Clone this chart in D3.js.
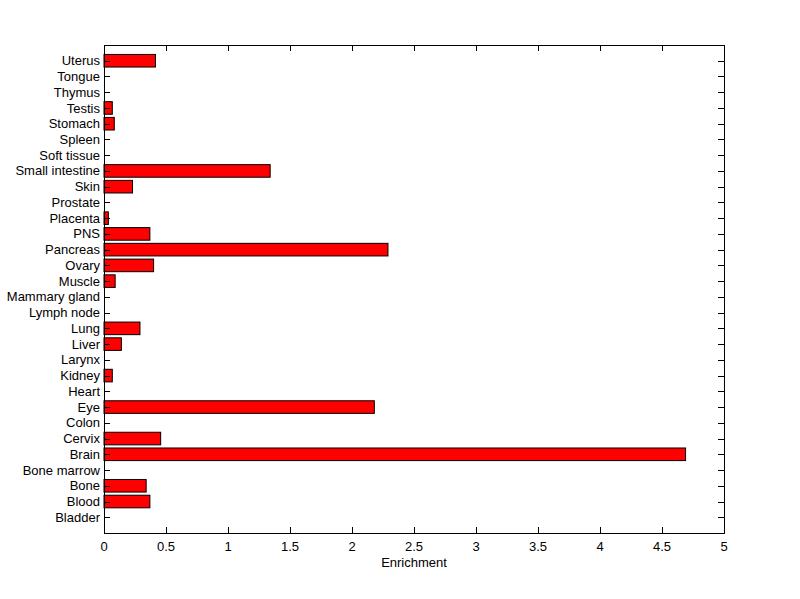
<!DOCTYPE html>
<html><head><meta charset="utf-8">
<script src="https://cdn.jsdelivr.net/npm/d3@7"></script>
<style>body{margin:0;background:#fff;} text{font-family:"Liberation Sans",Arial,sans-serif;font-size:13px;fill:#000;}</style>
</head><body>
<svg id="c" width="800" height="599"></svg>
<script>
const categories = ["Bladder","Blood","Bone","Bone marrow","Brain","Cervix","Colon","Eye","Heart","Kidney","Larynx","Liver","Lung","Lymph node","Mammary gland","Muscle","Ovary","Pancreas","PNS","Placenta","Prostate","Skin","Small intestine","Soft tissue","Spleen","Stomach","Testis","Thymus","Tongue","Uterus"];
const values = [0,0.37,0.34,0,4.69,0.457,0,2.18,0,0.067,0,0.14,0.29,0,0,0.09,0.40,2.29,0.37,0.035,0,0.23,1.34,0,0,0.083,0.067,0,0,0.415];
const xTicks = [0,0.5,1,1.5,2,2.5,3,3.5,4,4.5,5];
const xLabel = "Enrichment";

const L=104, R=724, T=45, B=533;
const svg = d3.select("#c");
const x = d3.scaleLinear().domain([0,5]).range([L,R]);
const y = d3.scaleLinear().domain([0,categories.length+1]).range([B,T]);
const bw = (y(0)-y(0.8));

svg.append("rect").attr("x",L).attr("y",T).attr("width",R-L).attr("height",B-T)
  .attr("fill","#fff");

svg.selectAll("rect.bar").data(values.map((v,i)=>({v,i}))).enter()
  .filter(d=>d.v>0)
  .append("rect").attr("class","bar")
  .attr("x",x(0)).attr("y",d=>y(d.i+1)-bw/2)
  .attr("width",d=>x(d.v)-x(0)).attr("height",bw)
  .attr("fill","#ff0000").attr("stroke","#000").attr("stroke-width",1);

const g = svg.append("g").attr("shape-rendering","crispEdges");
xTicks.forEach(t=>{
  g.append("line").attr("x1",x(t)).attr("x2",x(t)).attr("y1",B).attr("y2",B-6).attr("stroke","#000");
  g.append("line").attr("x1",x(t)).attr("x2",x(t)).attr("y1",T).attr("y2",T+6).attr("stroke","#000");
  svg.append("text").attr("x",x(t)).attr("y",B+18).attr("text-anchor","middle").text(String(t));
});
categories.forEach((c,i)=>{
  const yy = Math.round(y(i+1))+0.5;
  g.append("line").attr("x1",L).attr("x2",L+6).attr("y1",yy).attr("y2",yy).attr("stroke","#000");
  g.append("line").attr("x1",R).attr("x2",R-6).attr("y1",yy).attr("y2",yy).attr("stroke","#000");
  svg.append("text").attr("x",L-4).attr("y",y(i+1)).attr("dy","0.35em").attr("text-anchor","end").text(c);
});
g.append("rect").attr("x",L+0.5).attr("y",T+0.5).attr("width",R-L).attr("height",B-T)
  .attr("fill","none").attr("stroke","#000");
svg.append("text").attr("x",(L+R)/2).attr("y",B+34).attr("text-anchor","middle").text(xLabel);
</script>
</body></html>
